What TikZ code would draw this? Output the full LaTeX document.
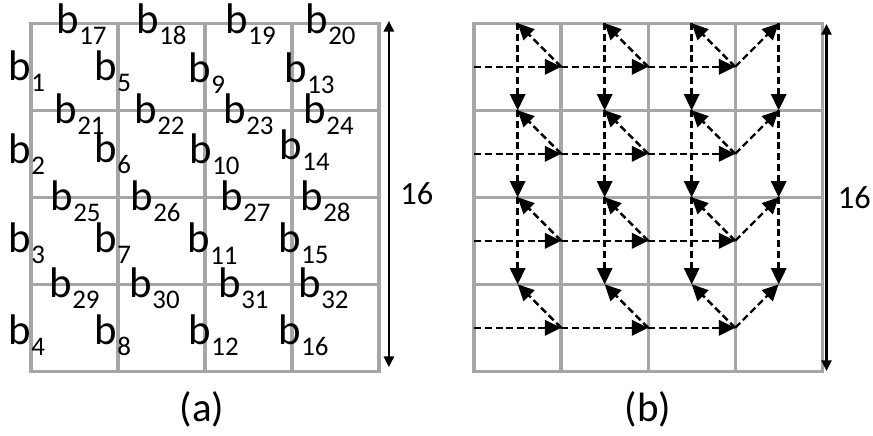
\documentclass[tikz,border=0pt]{standalone}
\usepackage{fontspec}
\setmainfont{Carlito}
\usetikzlibrary{arrows.meta}
\definecolor{cellgray}{HTML}{A6A6A6}
\newcommand{\bsub}[1]{b\raisebox{-3.6pt}{\fontsize{8.8}{8.8}\selectfont #1}}
\tikzset{gridcell/.style={draw=cellgray,line width=1.1pt,rectangle,minimum size=1cm,inner sep=0,outer sep=0},
    blabel/.style={anchor=base west,inner sep=0,font=\fontsize{14}{14}\selectfont},
    caption/.style={font=\fontsize{13.4}{13.4}\selectfont},
    sizelabel/.style={right,font=\fontsize{10.6}{10.6}\selectfont},
    scanarrow/.style={line width=0.8pt,dash pattern=on 2.3pt off 1.2pt,-{Triangle[length=5.3pt,width=5pt]}},
    sizearrow/.style={line width=0.8pt,{Triangle[length=3.5pt,width=3.3pt]}-{Triangle[length=3.5pt,width=3.3pt]}}}

\begin{document}
\begin{tikzpicture}

\useasboundingbox (0,0) rectangle (10.034,5);

% the two 4x4 grids
\foreach \r in {1,...,4}
  \foreach \c in {1,...,4} {
    \node (pa-\r-\c) [gridcell] at ({0.355+\c-0.5},{4.732-\r+0.5}) {};
    \node (pb-\r-\c) [gridcell] at ({5.45+\c-0.5},{4.732-\r+0.5}) {};
  }

% vertical block labels
\node (b1) [blabel] at (0.095,4.07) {\bsub{1}};
\node (b2) [blabel] at (0.095,3.126) {\bsub{2}};
\node (b3) [blabel] at (0.095,2.095) {\bsub{3}};
\node (b4) [blabel] at (0.095,1.046) {\bsub{4}};

\node (b5) [blabel] at (1.083,4.07) {\bsub{5}};
\node (b6) [blabel] at (1.083,3.13) {\bsub{6}};
\node (b7) [blabel] at (1.083,2.095) {\bsub{7}};
\node (b8) [blabel] at (1.083,1.046) {\bsub{8}};

\node (b9) [blabel] at (2.164,4.057) {\bsub{9}};
\node (b10) [blabel] at (2.175,3.126) {\bsub{10}};
\node (b11) [blabel] at (2.152,2.092) {\bsub{11}};
\node (b12) [blabel] at (2.164,1.046) {\bsub{12}};

\node (b13) [blabel] at (3.267,4.057) {\bsub{13}};
\node (b14) [blabel] at (3.210,3.161) {\bsub{14}};
\node (b15) [blabel] at (3.198,2.095) {\bsub{15}};
\node (b16) [blabel] at (3.198,1.046) {\bsub{16}};

% horizontal block labels
\node (b17) [blabel] at (0.646,4.61) {\bsub{17}};
\node (b18) [blabel] at (1.566,4.61) {\bsub{18}};
\node (b19) [blabel] at (2.589,4.61) {\bsub{19}};
\node (b20) [blabel] at (3.508,4.61) {\bsub{20}};

\node (b21) [blabel] at (0.623,3.586) {\bsub{21}};
\node (b22) [blabel] at (1.543,3.586) {\bsub{22}};
\node (b23) [blabel] at (2.566,3.586) {\bsub{23}};
\node (b24) [blabel] at (3.486,3.586) {\bsub{24}};

\node (b25) [blabel] at (0.577,2.580) {\bsub{25}};
\node (b26) [blabel] at (1.497,2.580) {\bsub{26}};
\node (b27) [blabel] at (2.531,2.580) {\bsub{27}};
\node (b28) [blabel] at (3.451,2.580) {\bsub{28}};

\node (b29) [blabel] at (0.566,1.575) {\bsub{29}};
\node (b30) [blabel] at (1.486,1.575) {\bsub{30}};
\node (b31) [blabel] at (2.508,1.575) {\bsub{31}};
\node (b32) [blabel] at (3.428,1.575) {\bsub{32}};

% scan order: across each row, back up to the top of the previous column, then down
\foreach \r in {1,...,4} {
  \foreach \c/\n in {1/2,2/3,3/4} {
    \draw [scanarrow] (pb-\r-\c.west) -- (pb-\r-\c.east);
    \draw [scanarrow] (pb-\r-\n.west) -- (pb-\r-\c.north);
  }
  \draw [scanarrow] (pb-\r-4.west) -- (pb-\r-4.north);
}
\foreach \r in {1,2,3}
  \foreach \c in {1,...,4}
    \draw [scanarrow] (pb-\r-\c.north) -- (pb-\r-\c.south);

% size of the block
\coordinate (sa-top) at (4.47,4.76);
\coordinate (sa-bot) at (4.47,0.78);
\draw [sizearrow] (sa-top) -- node [sizelabel] {16} (sa-bot);
\coordinate (sb-top) at (9.50,4.724);
\coordinate (sb-bot) at (9.50,0.736);
\draw [sizearrow] (sb-top) -- node [sizelabel] {16} (sb-bot);

\node (capa) [caption] at (2.32,0.30) {(a)};
\node (capb) [caption] at (7.45,0.30) {(b)};

\end{tikzpicture}
\end{document}
